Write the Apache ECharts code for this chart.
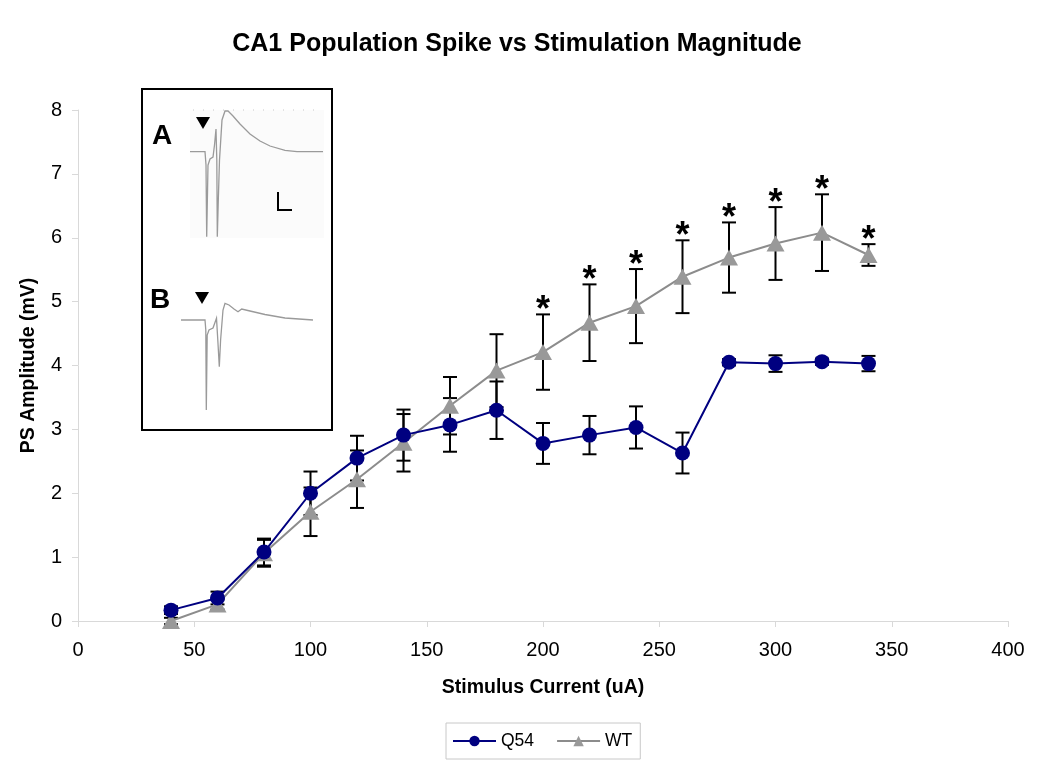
<!DOCTYPE html>
<html><head><meta charset="utf-8">
<script src="https://cdn.jsdelivr.net/npm/echarts@6/dist/echarts.min.js"></script>
<style>html,body{margin:0;padding:0;background:#fff}#c{width:1050px;height:767px}</style>
</head><body><div id="c"></div>
<script>
const xs = [40,60,80,100,120,140,160,180,200,220,240,260,280,300,320,340];
const q54 = [0.17,0.36,1.08,2.0,2.55,2.91,3.07,3.30,2.78,2.91,3.03,2.63,4.05,4.03,4.06,4.03];
const q54Err = [0.06,0.1,0.21,0.34,0.35,0.4,0.42,0.45,0.32,0.3,0.33,0.32,0.05,0.13,0.05,0.12];
const wt = [0.0,0.26,1.06,1.71,2.22,2.79,3.37,3.92,4.21,4.67,4.93,5.39,5.69,5.91,6.08,5.73];
const wtErr = [0.05,0.08,0.21,0.38,0.45,0.45,0.45,0.57,0.59,0.6,0.58,0.57,0.55,0.57,0.6,0.17];
const sigX = [200,220,240,260,280,300,320,340];
const yTicks = [0,1,2,3,4,5,6,7,8];

const font = 'Liberation Sans, Arial, sans-serif';
function errData(vals, errs){ return xs.map((x,i)=>[x, vals[i], errs[i]]); }
function errRender(params, api){
  const x = api.value(0), y = api.value(1), e = api.value(2);
  const top = api.coord([x, y+e]), bot = api.coord([x, y-e]);
  const st = {stroke:'#000', lineWidth:2};
  const hw = 7;
  return {type:'group', children:[
    {type:'line', shape:{x1:top[0],y1:top[1],x2:bot[0],y2:bot[1]}, style:st},
    {type:'line', shape:{x1:top[0]-hw,y1:top[1],x2:top[0]+hw,y2:top[1]}, style:st},
    {type:'line', shape:{x1:bot[0]-hw,y1:bot[1],x2:bot[0]+hw,y2:bot[1]}, style:st}
  ]};
}
const sigData = sigX.map(x=>{ const i = xs.indexOf(x); return [x, wt[i]+wtErr[i]]; });

const traceStyle = {stroke:'#9a9a9a', lineWidth:1.3, fill:null};
const traceA = [[190,151.7],[205,151.7],[206,165],[206.7,236.7],[208,165],[210,159],[213,157],[214.5,145],[216,129],[216.8,160],[217.3,236.7],[218.3,200],[219.5,160],[222,120],[225,111],[228,111],[233,116],[240,124],[250,134],[260,141],[270,146],[285,150.3],[297,151.7],[323,151.7]];
const traceB = [[181,320],[205,320],[205.8,330],[206.3,410],[207.2,335],[209,330],[213,328],[216.5,318.3],[217.8,340],[219.3,366.7],[220.6,340],[223,310],[225,303.3],[229,305],[234,309],[238,311.7],[241.7,309],[250,311],[265,314.5],[285,318],[313,320]];

const chart = echarts.init(document.getElementById('c'));
chart.setOption({
  animation:false,
  backgroundColor:'#fff',
  title:{text:'CA1 Population Spike vs Stimulation Magnitude', left:512, top:27, textAlign:'center',
    textStyle:{fontFamily:font, fontSize:25, fontWeight:'bold', color:'#000'}},
  legend:{data:['Q54','WT'], left:446, top:723, orient:'horizontal',
    borderColor:'#c8c8c8', borderWidth:1, padding:[9,8,9,6], itemGap:22, itemWidth:43, itemHeight:13,
    textStyle:{fontFamily:font, fontSize:17.5, color:'#000'}},
  grid:{left:78, right:42, top:110, bottom:146},
  xAxis:{type:'value', min:0, max:400, interval:50, name:'Stimulus Current (uA)', nameLocation:'middle', nameGap:57,
    nameTextStyle:{fontFamily:font, fontSize:19.5, fontWeight:'bold', color:'#000'},
    axisLine:{show:true, lineStyle:{color:'#d9d9d9', width:1}},
    axisTick:{show:true, length:6, lineStyle:{color:'#d9d9d9'}},
    splitLine:{show:false},
    axisLabel:{fontFamily:font, fontSize:20, color:'#000', margin:19}},
  yAxis:{type:'value', min:yTicks[0], max:yTicks[yTicks.length-1], interval:1, name:'PS Amplitude (mV)', nameLocation:'middle', nameGap:39,
    nameTextStyle:{fontFamily:font, fontSize:19.5, fontWeight:'bold', color:'#000'},
    axisLine:{show:true, lineStyle:{color:'#d9d9d9', width:1}},
    axisTick:{show:true, length:6, lineStyle:{color:'#d9d9d9'}},
    splitLine:{show:false},
    axisLabel:{fontFamily:font, fontSize:20, color:'#000', margin:16}},
  series:[
    {type:'custom', name:'errQ', renderItem:errRender, data:errData(q54,q54Err), z:1, silent:true},
    {type:'custom', name:'errW', renderItem:errRender, data:errData(wt,wtErr), z:1, silent:true},
    {type:'line', name:'Q54', data:xs.map((x,i)=>[x,q54[i]]), z:4, symbol:'circle', symbolSize:15,
      lineStyle:{color:'#000080', width:2}, itemStyle:{color:'#000080'}},
    {type:'line', name:'WT', data:xs.map((x,i)=>[x,wt[i]]), z:3, symbol:'triangle', symbolSize:[18,16],
      lineStyle:{color:'#8c8c8c', width:2}, itemStyle:{color:'#999999'}},
    {type:'custom', name:'sig', data:sigData, z:5, silent:true,
      renderItem:(p,api)=>{ const c = api.coord([api.value(0), api.value(1)]);
        return {type:'text', style:{text:'*', x:c[0], y:c[1]-3, align:'center', verticalAlign:'middle',
          font:'bold 36px '+font, fill:'#000'}}; }}
  ],
  graphic:[
    {type:'group', z:10, children:[
      {type:'rect', shape:{x:142, y:89, width:190, height:341}, style:{fill:'#fff', stroke:'#000', lineWidth:2}},
      {type:'rect', shape:{x:190, y:110, width:134, height:128}, style:{fill:'#fbfbfb'}},
      {type:'polyline', shape:{points:[[193,110],[317,110]]}, style:{stroke:'#c8c8c8', lineWidth:1, lineDash:[1,9]}},
      {type:'polyline', shape:{points:traceA}, style:traceStyle},
      {type:'polyline', shape:{points:traceB}, style:traceStyle},
      {type:'polygon', shape:{points:[[196,117],[210,117],[203,129]]}, style:{fill:'#000'}},
      {type:'polygon', shape:{points:[[195,292],[209,292],[202,304]]}, style:{fill:'#000'}},
      {type:'polyline', shape:{points:[[278,192],[278,210],[292,210]]}, style:{stroke:'#000', lineWidth:2, fill:null}},
      {type:'text', style:{text:'A', x:162, y:136, align:'center', verticalAlign:'middle', font:'bold 28px '+font, fill:'#000'}},
      {type:'text', style:{text:'B', x:160, y:300, align:'center', verticalAlign:'middle', font:'bold 28px '+font, fill:'#000'}}
    ]}
  ]
});
</script></body></html>
